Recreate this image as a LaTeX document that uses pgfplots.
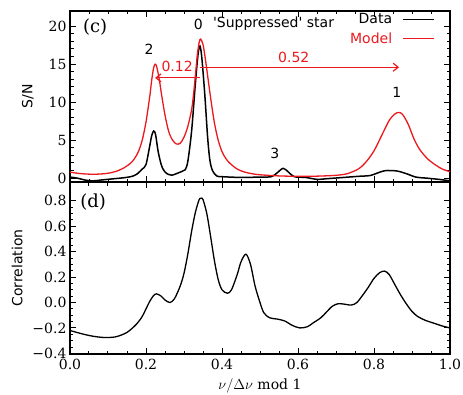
\documentclass[border=0pt]{standalone}
\usepackage{fontspec}
\setmainfont{DejaVu Serif}
\setsansfont{DejaVu Sans}
\usepackage{pgfplots}
\pgfplotsset{compat=1.18}
\usetikzlibrary{arrows.meta}
\definecolor{mred}{RGB}{235,25,30}

\begin{document}
\begin{tikzpicture}[x=1pt,y=1pt]
\path[use as bounding box] (0,0) rectangle (463,394);
\pgfplotsset{
  every axis/.append style={
    scale only axis, width=380pt,
    xmin=0, xmax=1,
    axis line style={line width=1.6pt},
    every tick/.style={line width=1pt, black},
    major tick length=6pt, minor tick length=3.5pt,
    tick align=inside,
    xtick={0,0.2,0.4,0.6,0.8,1.0}, minor x tick num=3,
    tick label style={font=\fontsize{14}{16}\selectfont},
    ylabel style={font=\sffamily\fontsize{14}{16}\selectfont},
  }
}
\begin{axis}[at={(70pt,212pt)}, anchor=south west, height=171pt,
  ymin=-0.5, ymax=22,
  ytick={0,5,10,15,20}, yticklabels={0,5,10,15,20}, minor y tick num=4,
  xticklabels={},
  ylabel={S/N}, ylabel style={at={(axis description cs:-0.111,0.5)}, anchor=center},
  legend plot pos=right,
  legend cell align=right,
  legend image code/.code={\draw[#1] (0pt,0pt) -- (31pt,0pt);},
  legend style={at={(axis cs:0.968,22.2)}, anchor=north east, draw=none, fill=none,
     font=\sffamily\fontsize{14}{17}\selectfont, row sep=3pt, /tikz/column sep=8pt},
]
\addplot[black, line width=1.5pt, smooth] coordinates {
(0.00,0.15) (0.02,0.0) (0.04,-0.25) (0.06,-0.35) (0.08,-0.25) (0.10,-0.15)
(0.12,-0.05) (0.14,0.05) (0.16,0.2) (0.175,0.5) (0.19,1.2) (0.20,1.8)
(0.21,4.3) (0.215,5.6) (0.22,6.2) (0.225,5.8) (0.232,3.5) (0.24,1.8)
(0.246,1.1) (0.255,0.6) (0.268,0.4) (0.28,0.6) (0.295,0.9) (0.303,1.1)
(0.31,2.2) (0.32,6.2) (0.33,12.5) (0.337,16.3) (0.342,17.4) (0.347,15.8)
(0.355,10.8) (0.362,5.5) (0.368,2.4) (0.375,1.0) (0.386,0.3) (0.40,0.2)
(0.45,0.1) (0.50,0.15) (0.53,0.2) (0.545,0.7) (0.561,1.3) (0.575,0.8)
(0.59,0.2) (0.62,0.1) (0.65,-0.15) (0.68,-0.05) (0.72,0.1) (0.76,0.25)
(0.79,0.35) (0.81,0.7) (0.83,1.0) (0.86,0.95) (0.885,0.6) (0.91,0.15)
(0.94,0.0) (0.97,-0.15) (1.00,-0.35)
};
\addlegendentry{Data}
\addplot[mred, line width=1.3pt, smooth] coordinates {
(0.00,0.80) (0.02,0.65) (0.04,0.56) (0.06,0.52) (0.08,0.55) (0.10,0.65)
(0.12,0.88) (0.14,1.3) (0.16,2.0) (0.17,2.6) (0.18,3.5) (0.19,5.0)
(0.20,7.4) (0.21,10.8) (0.215,12.9) (0.22,14.5) (0.224,15.0) (0.228,14.7)
(0.235,13.0) (0.24,11.3) (0.25,8.3) (0.26,6.1) (0.27,5.0) (0.28,4.5)
(0.29,4.6) (0.30,5.4) (0.31,6.8) (0.32,9.0) (0.325,11.0) (0.33,13.5)
(0.335,16.2) (0.34,17.9) (0.344,18.3) (0.35,17.6) (0.355,16.1) (0.36,14.3)
(0.37,10.6) (0.38,7.3) (0.39,5.0) (0.40,3.5) (0.41,2.6) (0.42,2.0)
(0.44,1.2) (0.46,0.8) (0.48,0.58) (0.50,0.45) (0.55,0.3) (0.60,0.25)
(0.65,0.27) (0.70,0.38) (0.73,0.6) (0.76,1.25) (0.78,2.2) (0.80,3.6)
(0.82,5.6) (0.84,7.6) (0.855,8.45) (0.865,8.65) (0.875,8.4) (0.89,7.1)
(0.905,5.2) (0.92,3.8) (0.94,2.6) (0.96,1.8) (0.98,1.2) (1.00,0.85)
};
\addlegendentry{\textcolor{mred}{Model}}
\node[font=\fontsize{18}{20}\selectfont] at (axis cs:0.066,19.9) {(c)};
\node[font=\sffamily\fontsize{14}{16}\selectfont] at (axis cs:0.208,17) {2};
\node[font=\sffamily\fontsize{14}{16}\selectfont] at (axis cs:0.338,20.3) {0};
\node[font=\sffamily\fontsize{14}{16}\selectfont] at (axis cs:0.86,11.3) {1};
\node[font=\sffamily\fontsize{14}{16}\selectfont] at (axis cs:0.539,3.2) {3};
\node[font=\sffamily\fontsize{14}{16}\selectfont, anchor=west, inner sep=0pt] at (axis cs:0.376,20.4) {\textquotesingle Suppressed\textquotesingle\ star};
\draw[mred, line width=1.2pt, -{Straight Barb[length=5pt,width=8pt]}] (axis cs:0.342,14.6) -- (axis cs:0.866,14.6);
\draw[mred, line width=1.2pt, -{Straight Barb[length=5pt,width=8pt]}] (axis cs:0.342,13.2) -- (axis cs:0.224,13.2);
\node[mred, font=\sffamily\fontsize{14}{16}\selectfont] at (axis cs:0.282,14.7) {0.12};
\node[mred, font=\sffamily\fontsize{14}{16}\selectfont] at (axis cs:0.589,15.9) {0.52};
\end{axis}

\begin{axis}[at={(70pt,40pt)}, anchor=south west, height=172pt,
  ymin=-0.405, ymax=0.948,
  ytick={-0.4,-0.2,0,0.2,0.4,0.6,0.8},
  yticklabels={−0.4,−0.2,0.0,0.2,0.4,0.6,0.8},
  minor y tick num=3,
  xticklabels={0.0,0.2,0.4,0.6,0.8,1.0},
  xticklabel style={yshift=-2pt},
  ylabel={Correlation}, ylabel style={at={(axis description cs:-0.139,0.5)}, anchor=center},
  xlabel={$\nu/\Delta\nu$ mod 1},
  xlabel style={font=\fontsize{14}{16}\selectfont, at={(axis description cs:0.5,-0.185)}, anchor=center},
]
\addplot[black, line width=1.3pt, smooth] coordinates {
(0.00,-0.22) (0.03,-0.245) (0.06,-0.265) (0.09,-0.275) (0.12,-0.27) (0.15,-0.235)
(0.175,-0.17) (0.19,-0.11) (0.20,-0.05) (0.21,0.01) (0.22,0.055) (0.228,0.068)
(0.24,0.05) (0.25,0.02) (0.263,0.0) (0.275,0.03) (0.29,0.13) (0.30,0.23)
(0.31,0.38) (0.32,0.56) (0.33,0.71) (0.34,0.81) (0.345,0.82) (0.35,0.81)
(0.36,0.7) (0.37,0.52) (0.38,0.33) (0.39,0.18) (0.40,0.1) (0.414,0.073)
(0.425,0.1) (0.44,0.22) (0.45,0.32) (0.463,0.38) (0.475,0.3) (0.487,0.13)
(0.50,0.0) (0.51,-0.08) (0.525,-0.12) (0.545,-0.13) (0.565,-0.145) (0.585,-0.18)
(0.605,-0.2) (0.625,-0.19) (0.64,-0.16) (0.66,-0.12) (0.675,-0.075) (0.69,-0.03)
(0.705,-0.01) (0.72,-0.012) (0.74,-0.02) (0.755,0.0) (0.772,0.065) (0.785,0.12)
(0.80,0.19) (0.815,0.235) (0.828,0.247) (0.84,0.22) (0.855,0.14) (0.87,0.06)
(0.885,-0.01) (0.90,-0.07) (0.915,-0.11) (0.935,-0.14) (0.96,-0.165) (0.98,-0.185)
(1.00,-0.2)
};
\node[font=\fontsize{18}{20}\selectfont] at (axis cs:0.061,0.79) {(d)};
\end{axis}
\end{tikzpicture}
\end{document}
